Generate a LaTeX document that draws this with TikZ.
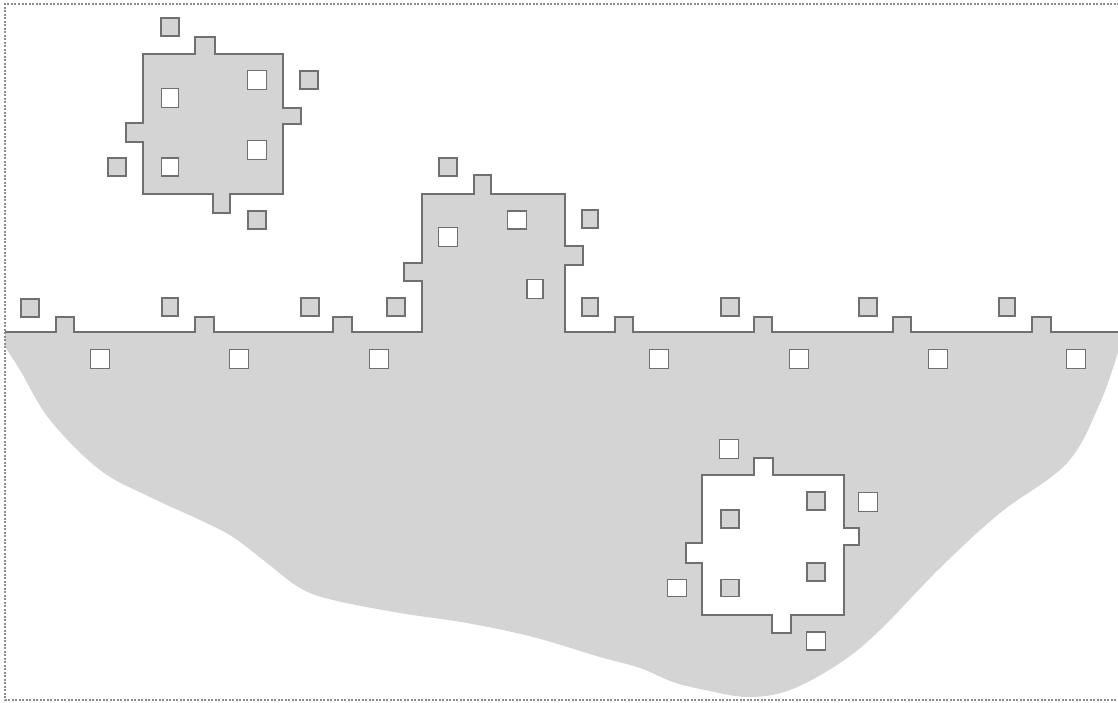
\documentclass[tikz,border=0pt]{standalone}
\usepackage{tikz}
\definecolor{fillg}{HTML}{D4D4D4}
\definecolor{lineg}{HTML}{707070}
\definecolor{frameg}{HTML}{8C8C8C}
\tikzset{
  outl/.style={draw=lineg, line width=1.8pt, line join=miter},
  gsq/.style={rectangle, draw=lineg, fill=fillg, line width=1.6pt, minimum width=18pt, minimum height=18pt, inner sep=0pt},
  wsq/.style={rectangle, draw=lineg, fill=white, line width=1.6pt, minimum width=19pt, minimum height=19pt, inner sep=0pt},
  framel/.style={draw=frameg, line width=1.6pt, dash pattern=on 2pt off 1.5pt}
}
\begin{document}
\begin{tikzpicture}[x=1pt,y=-1pt]
\useasboundingbox (0,0) rectangle (1118,702);
% blob fill
\fill[fillg] (5,332) -- (1118,332) -- (1118,352)
  -- plot[smooth,tension=0.6] coordinates {(1118,352) (1100,403) (1067,463) (1000,513) (940,568) (880,630) (840,663) (790,690) (748,697) (705,690) (673,682) (640,668) (600,657) (533,637) (467,623) (400,613) (333,600) (300,588) (267,563) (233,537) (200,520) (150,497) (100,470) (50,420) (20,370) (5,347)} -- cycle;
% ground outline with bumps and building
\path[fill=fillg] (5,332) -- (56,332) -- (56,317) -- (74,317) -- (74,332) -- (195,332) -- (195,317) -- (214,317) -- (214,332) -- (333,332) -- (333,317) -- (352,317) -- (352,332) -- (422,332) -- (422,281) -- (404,281) -- (404,263) -- (422,263) -- (422,194) -- (474,194) -- (474,175) -- (491,175) -- (491,194) -- (565,194) -- (565,246) -- (583,246) -- (583,265) -- (565,265) -- (565,332) -- (615,332) -- (615,317) -- (633,317) -- (633,332) -- (754,332) -- (754,317) -- (772,317) -- (772,332) -- (893,332) -- (893,317) -- (911,317) -- (911,332) -- (1032,332) -- (1032,317) -- (1051,317) -- (1051,332) -- (1118,332) -- (1118,334) -- (5,334) -- cycle;
\draw[outl] (5,332) -- (56,332) -- (56,317) -- (74,317) -- (74,332) -- (195,332) -- (195,317) -- (214,317) -- (214,332) -- (333,332) -- (333,317) -- (352,317) -- (352,332) -- (422,332) -- (422,281) -- (404,281) -- (404,263) -- (422,263) -- (422,194) -- (474,194) -- (474,175) -- (491,175) -- (491,194) -- (565,194) -- (565,246) -- (583,246) -- (583,265) -- (565,265) -- (565,332) -- (615,332) -- (615,317) -- (633,317) -- (633,332) -- (754,332) -- (754,317) -- (772,317) -- (772,332) -- (893,332) -- (893,317) -- (911,317) -- (911,332) -- (1032,332) -- (1032,317) -- (1051,317) -- (1051,332) -- (1119,332);
% top-left tile
\draw[outl, fill=fillg] (143,54) -- (195,54) -- (195,37) -- (215,37) -- (215,54) -- (283,54) -- (283,108) -- (301,108) -- (301,124) -- (283,124) -- (283,194) -- (230,194) -- (230,213) -- (213,213) -- (213,194) -- (143,194) -- (143,142) -- (126,142) -- (126,123) -- (143,123) -- cycle;
% bottom-right tile (hole)
\draw[outl, fill=white] (702,475) -- (754,475) -- (754,458) -- (773,458) -- (773,475) -- (844,475) -- (844,528) -- (859,528) -- (859,545) -- (844,545) -- (844,615) -- (791,615) -- (791,633) -- (772,633) -- (772,615) -- (702,615) -- (702,563) -- (686,563) -- (686,543) -- (702,543) -- cycle;
% squares above ground (gray)
\node[gsq] (ga1) at (30,308) {};
\node[gsq, minimum width=16pt] (ga2) at (170,307) {};
\node[gsq] (ga3) at (310,307) {};
\node[gsq] (ga4) at (396,307) {};
\node[gsq, minimum width=16pt] (ga5) at (590,307) {};
\node[gsq] (ga6) at (730,307) {};
\node[gsq] (ga7) at (868,307) {};
\node[gsq, minimum width=16pt] (ga8) at (1007,307) {};
% squares below ground (white)
\node[wsq] (wb1) at (100,359) {};
\node[wsq] (wb2) at (239,359) {};
\node[wsq] (wb3) at (379,359) {};
\node[wsq] (wb4) at (659,359) {};
\node[wsq] (wb5) at (799,359) {};
\node[wsq] (wb6) at (938,359) {};
\node[wsq] (wb7) at (1076,359) {};
% building
\node[wsq] (bw1) at (448,237) {};
\node[wsq, minimum height=18pt] (bw2) at (517,220) {};
\node[wsq, minimum width=16pt] (bw3) at (535,289) {};
\node[gsq] (bg1) at (448,167) {};
\node[gsq, minimum width=16pt] (bg2) at (590,219) {};
% top-left tile squares
\node[wsq, minimum width=17pt] (tw1) at (170,98) {};
\node[wsq] (tw2) at (257,80) {};
\node[wsq] (tw3) at (257,150) {};
\node[wsq, minimum width=17pt, minimum height=18pt] (tw4) at (170,167) {};
\node[gsq] (tg1) at (170,27) {};
\node[gsq] (tg2) at (309,80) {};
\node[gsq] (tg3) at (117,167) {};
\node[gsq] (tg4) at (257,220) {};
% bottom-right tile squares
\node[gsq] (rg1) at (730,519) {};
\node[gsq] (rg2) at (816,501) {};
\node[gsq] (rg3) at (816,572) {};
\node[gsq, minimum height=17pt] (rg4) at (730,588) {};
\node[wsq] (rw1) at (729,449) {};
\node[wsq] (rw2) at (868,502) {};
\node[wsq, minimum height=17pt] (rw3) at (677,588) {};
\node[wsq, minimum height=18pt] (rw4) at (816,641) {};
% frame
\draw[framel] (1119,4) -- (5,4) -- (5,700) -- (1119,700);
\end{tikzpicture}
\end{document}
